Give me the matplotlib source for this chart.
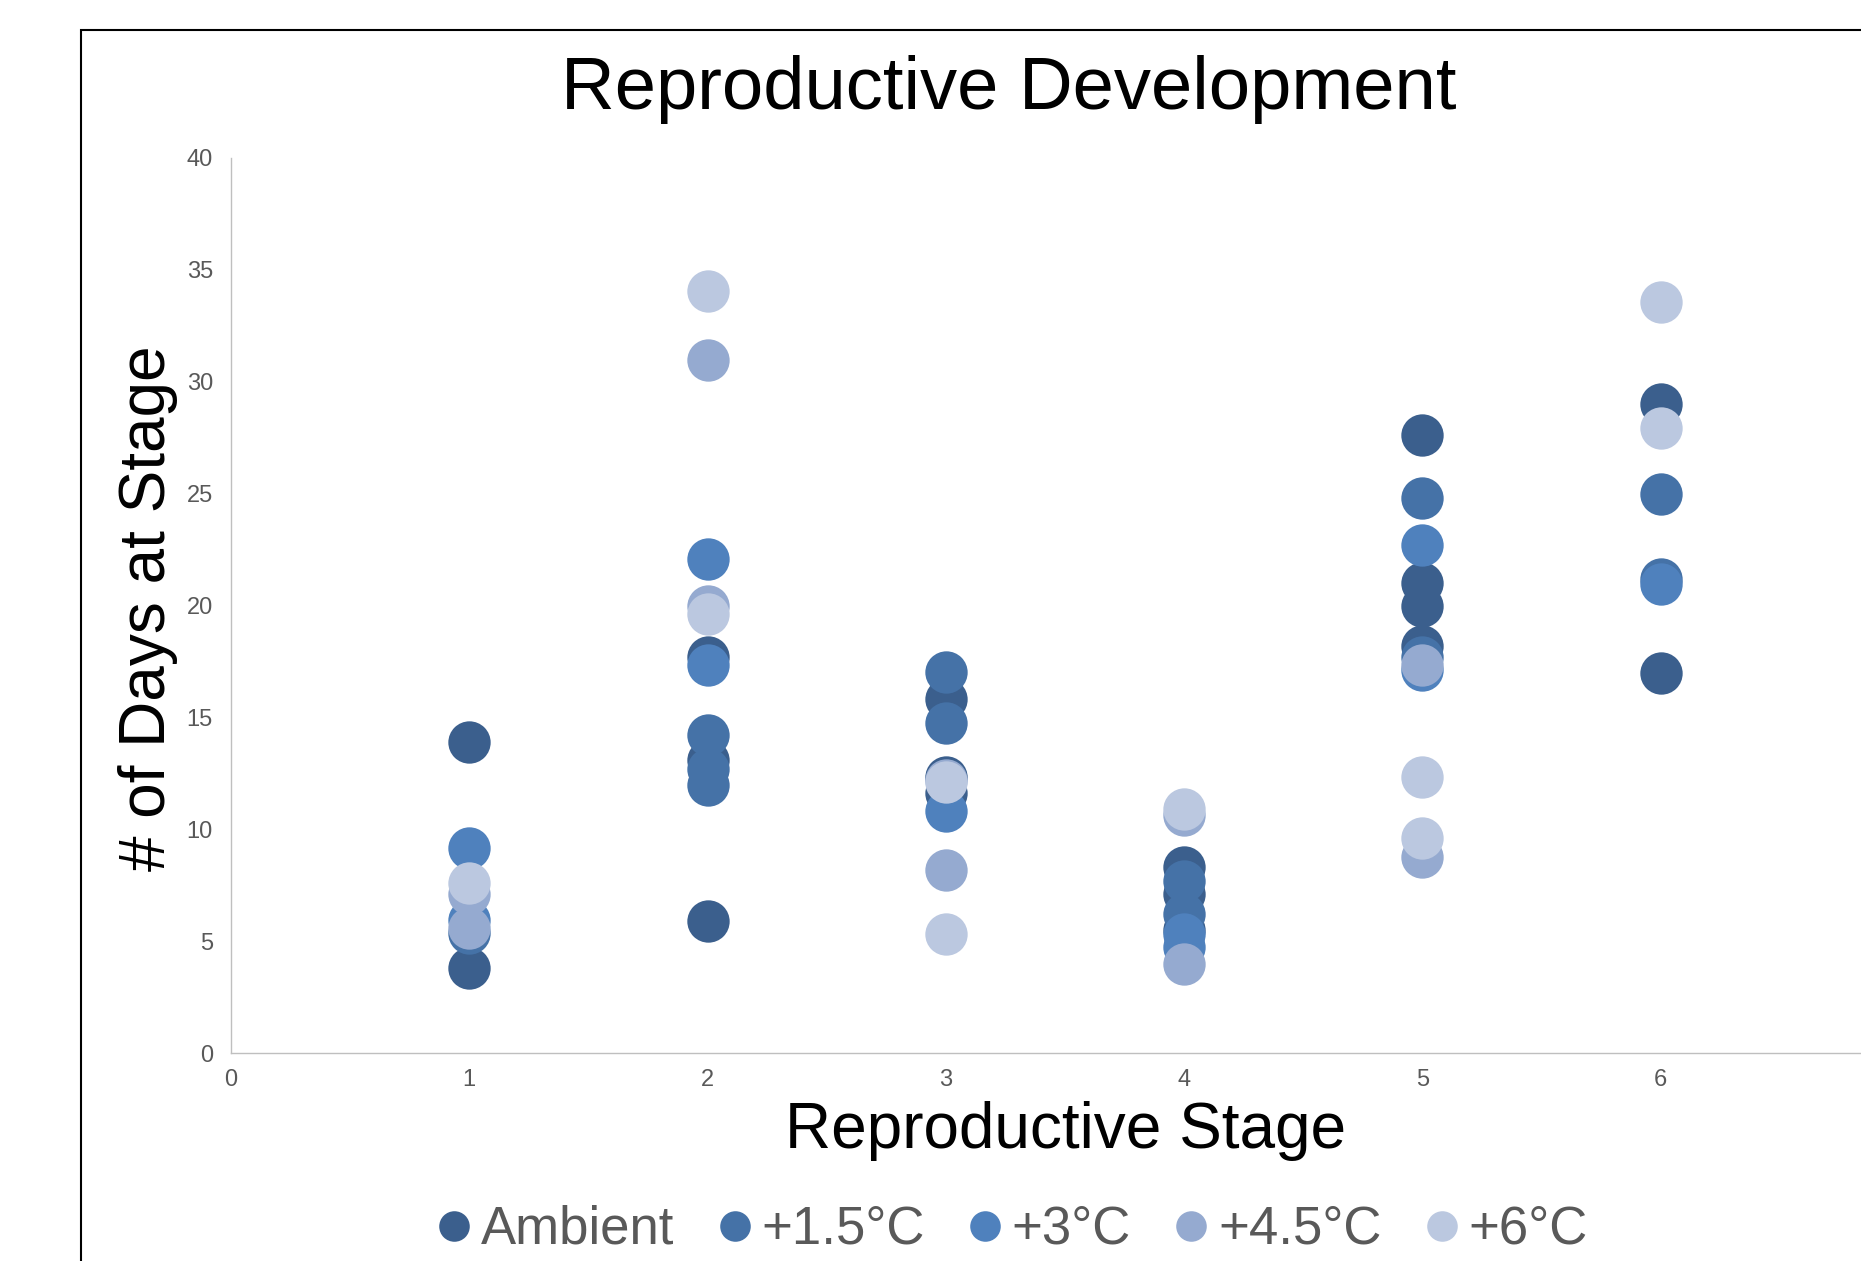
import matplotlib
matplotlib.use("Agg")
import matplotlib.pyplot as plt
from matplotlib.lines import Line2D
from matplotlib.patches import Rectangle

plt.rcParams['font.family'] = ['Liberation Sans', 'DejaVu Sans']

# Days spent at each reproductive stage, per warming treatment
series_labels = ["Ambient", "+1.5°C", "+3°C", "+4.5°C", "+6°C"]
series_colors = ["#3B5F8D", "#4572A7", "#4F81BD", "#95AAD0", "#BBC8E0"]

ambient_stage = [1, 1, 2, 2, 2, 3, 3, 3, 4, 4, 4, 5, 5, 5, 5, 6, 6]
ambient_days = [13.9, 3.8, 17.7, 13.1, 5.9, 15.8, 12.35, 11.6, 8.3, 7.1, 5.5,
                27.6, 21.0, 20.0, 18.2, 29.0, 17.0]

plus15_stage = [1, 2, 2, 2, 3, 3, 4, 4, 5, 5, 6, 6]
plus15_days = [5.35, 14.2, 12.7, 12.0, 17.05, 14.75, 7.7, 6.2, 24.8, 17.7, 25.0, 21.2]

plus3_stage = [1, 1, 2, 2, 3, 4, 4, 5, 5, 6]
plus3_days = [9.15, 5.95, 22.1, 17.35, 10.8, 5.3, 4.75, 22.7, 17.1, 20.95]

plus45_stage = [1, 1, 2, 2, 3, 3, 4, 4, 5, 5]
plus45_days = [7.1, 5.6, 30.95, 20.0, 12.2, 8.2, 10.65, 4.0, 17.35, 8.75]

plus6_stage = [1, 2, 2, 3, 3, 4, 5, 5, 6, 6]
plus6_days = [7.6, 34.05, 19.6, 12.1, 5.3, 10.9, 12.35, 9.6, 33.55, 27.95]

stages = [ambient_stage, plus15_stage, plus3_stage, plus45_stage, plus6_stage]
days = [ambient_days, plus15_days, plus3_days, plus45_days, plus6_days]

x_ticks = [0, 1, 2, 3, 4, 5, 6]
y_ticks = [0, 5, 10, 15, 20, 25, 30, 35, 40]

W, H = 1861, 1261
fig = plt.figure(figsize=(W / 100, H / 100), dpi=100)
fig.patch.set_facecolor("white")

# Chart-area border (runs off the right and bottom edges)
fig.patches.append(Rectangle((81 / W, -0.2), 1.5, 1 - 30 / H + 0.2,
                             transform=fig.transFigure, fill=False,
                             edgecolor="black", linewidth=1.5, zorder=0))

ax = fig.add_axes([231 / W, 208 / H, 1668 / W, 895 / H])
ax.set_facecolor("none")

for xs, ys, col in zip(stages, days, series_colors):
    ax.plot(xs, ys, linestyle="none", marker="o", markersize=30.5,
            markerfacecolor=col, markeredgewidth=0, clip_on=False)

ax.set_xlim(0, 7)
ax.set_ylim(0, 40)
ax.set_xticks(x_ticks)
ax.set_yticks(y_ticks)
for s in ["top", "right"]:
    ax.spines[s].set_visible(False)
for s in ["left", "bottom"]:
    ax.spines[s].set_color("#BFBFBF")
    ax.spines[s].set_linewidth(1.0)
ax.tick_params(axis="both", length=0, labelsize=17, labelcolor="#595959")
ax.tick_params(axis="y", pad=13)
ax.tick_params(axis="x", pad=11.5)

fig.text(1009 / W, 1 - 90 / H, "Reproductive Development", ha="center",
         va="center", fontsize=53.5, color="black")
fig.text(1066 / W, 1 - 1131 / H, "Reproductive Stage", ha="center",
         va="center", fontsize=46, color="black")
fig.text(148 / W, 1 - 608 / H, "# of Days at Stage", ha="center",
         va="center", rotation=90, fontsize=46, color="black")

handles = [Line2D([], [], linestyle="none", marker="o", markersize=22,
                  markerfacecolor=c, markeredgewidth=0) for c in series_colors]
fig.legend(handles, series_labels, loc="center", ncol=5,
           bbox_to_anchor=(1013 / W, 1 - 1230 / H), frameon=False,
           fontsize=38, labelcolor="#595959", handlelength=0.6,
           handletextpad=0.2, columnspacing=0.85, borderaxespad=0)

fig.savefig("out.png", dpi=100)
